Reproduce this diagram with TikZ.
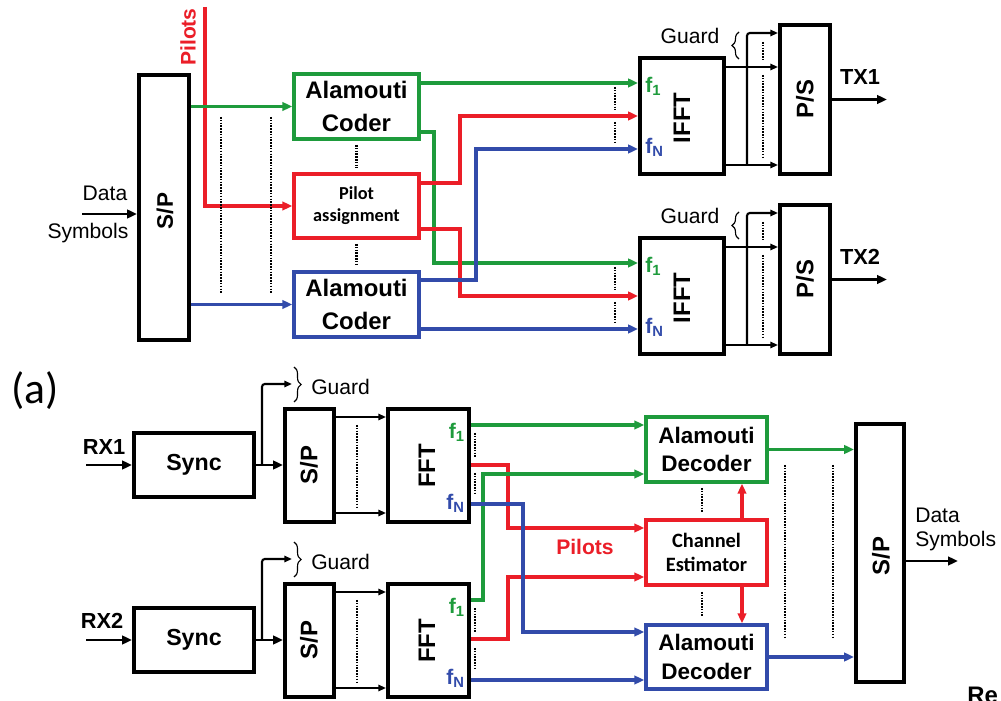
\documentclass[tikz,border=0pt]{standalone}
\usepackage{fontspec}
\setmainfont{Liberation Sans}
\newfontfamily\calfont{Carlito}
\usetikzlibrary{arrows.meta,decorations.pathreplacing,calc}
\definecolor{cgreen}{RGB}{30,155,60}
\definecolor{cred}{RGB}{235,30,40}
\definecolor{cblue}{RGB}{50,75,170}
\begin{document}
\begin{tikzpicture}[x=0.025cm,y=-0.025cm,
  sz/.style 2 args={minimum width=#1*0.025cm, minimum height=#2*0.025cm, inner sep=0pt},
  boxk/.style={draw=black, line width=2.8pt},
  boxg/.style={draw=cgreen, line width=2.5pt},
  boxr/.style={draw=cred, line width=2.5pt},
  boxb/.style={draw=cblue, line width=2.5pt},
  bigf/.style={font=\bfseries\fontsize{17}{20}\selectfont},
  coderf/.style={font=\bfseries\fontsize{17}{24}\selectfont, align=center},
  decf/.style={font=\bfseries\fontsize{16}{20}\selectfont, align=center},
  pilotf/.style={font=\calfont\bfseries\fontsize{13}{15.6}\selectfont, align=center},
  cef/.style={font=\calfont\bfseries\fontsize{14.5}{17}\selectfont, align=center},
  txtf/.style={font=\fontsize{15}{18}\selectfont, inner sep=0pt},
  lblf/.style={font=\bfseries\fontsize{15.5}{18}\selectfont, inner sep=0pt},
  pilf/.style={font=\bfseries\fontsize{15}{18}\selectfont, text=cred, inner sep=0pt},
  flab/.style={font=\bfseries\fontsize{15}{18}\selectfont, inner sep=0pt},
  syncf/.style={font=\bfseries\fontsize{16.5}{20}\selectfont},
  tip/.style={-{Triangle[length=7pt,width=6pt]}},
  tips/.style={-{Triangle[length=5.5pt,width=4.5pt]}},
  kl/.style={draw=black, line width=2pt},
  kt/.style={draw=black, line width=1.5pt},
  gl/.style={draw=cgreen, line width=2.3pt},
  rl/.style={draw=cred, line width=2.2pt},
  bl/.style={draw=cblue, line width=2.2pt},
  dots/.style={draw=black, line width=1.8pt, dash pattern=on 1.1pt off 0.9pt},
  brc/.style={draw=black, line width=0.8pt, decorate, decoration={brace, amplitude=5pt}}
]
\useasboundingbox (0,0) rectangle (1001,701);
\fill[white] (0,0) rectangle (1001,701);

% ===================== TOP (transmitter) =====================
\node[boxk, sz={50}{265}] (spT) at (164,207.5) {};
\node[rotate=90, font=\bfseries\fontsize{16}{19}\selectfont] (spTt) at (165,211) {S/P};
\node[boxg, sz={125}{65}, coderf] (acT1) at (356.5,106.5) {Alamouti\\Coder};
\node[boxr, sz={125}{64}, pilotf] (pa) at (356.5,206) {Pilot\\assignment};
\node[boxb, sz={125}{65}, coderf] (acT2) at (356.5,304.5) {Alamouti\\Coder};

\node[boxk, sz={84}{116}] (ifft1) at (682,116) {};
\node[rotate=90, bigf] (ifft1t) at (682,118) {IFFT};
\node[boxk, sz={84}{116}] (ifft2) at (682,296) {};
\node[rotate=90, bigf] (ifft2t) at (682,298) {IFFT};
\node[boxk, sz={50}{149}] (ps1) at (805,99.5) {};
\node[rotate=90, bigf] (ps1t) at (805,99) {P/S};
\node[boxk, sz={50}{149}] (ps2) at (805,279.5) {};
\node[rotate=90, bigf] (ps2t) at (805,279) {P/S};

\node[flab, anchor=west, text=cgreen] (f1a) at (645,86) {f\textsubscript{1}};
\node[flab, anchor=west, text=cblue] (fNa) at (645,147) {f\textsubscript{N}};
\node[flab, anchor=west, text=cgreen] (f1b) at (645,266) {f\textsubscript{1}};
\node[flab, anchor=west, text=cblue] (fNb) at (645,327) {f\textsubscript{N}};

% input
\coordinate (dsin) at (82,214);
\draw[kl, tip] (dsin) -- (spT.west |- dsin);
\node[txtf] (dataT) at (105,193) {Data};
\node[txtf] (symT) at (88,233) {Symbols};
\coordinate (pilsrc) at (205,7);
\draw[rl, tip] (pilsrc) |- (pa.west);
\node[pilf, rotate=90] (pilT) at (188,37) {Pilots};
\draw[gl, tip] (spT.east |- acT1.west) -- (acT1.west);
\draw[bl, tip] (spT.east |- acT2.west) -- (acT2.west);
\draw[dots] (221,117) -- (221,294);
\draw[dots] (271,117) -- (271,294);
\draw[dots, shorten <=3pt, shorten >=3pt] (acT1.south) -- (pa.north);
\draw[dots, shorten <=3pt, shorten >=3pt] (pa.south) -- (acT2.north);

% coder -> IFFT
\draw[gl, tip] (acT1.east |- 0,83) -- (ifft1.west |- 0,83);
\draw[gl, tip] (acT1.east |- 0,132) -| (434,263) -- (ifft2.west |- 0,263);
\draw[rl, tip] (pa.east |- 0,183) -| (460,116) -- (ifft1.west);
\draw[rl, tip] (pa.east |- 0,229) -| (460,296) -- (ifft2.west);
\draw[bl, tip] (acT2.east |- 0,280) -| (476,149) -- (ifft1.west |- 0,149);
\draw[bl, tip] (acT2.east |- 0,329) -- (ifft2.west |- 0,329);
\draw[dots] (615,87) -- (615,110);
\draw[dots] (615,122) -- (615,143);
\draw[dots] (615,267) -- (615,290);
\draw[dots] (615,302) -- (615,323);

% IFFT -> P/S
\foreach \o/\i/\p in {0/ifft1/ps1, 180/ifft2/ps2}{
  \draw[kt, tips] (\i.east |- 0,67+\o) -- (\p.west |- 0,67+\o);
  \draw[kt, tips] (\i.east |- 0,165+\o) -- (\p.west |- 0,165+\o);
  \draw[kt, tips, rounded corners=2pt] (747,165+\o) -- (747,33+\o) -- (\p.west |- 0,33+\o);
  \draw[dots] (763,42+\o) -- (763,60+\o);
  \draw[dots] (763,75+\o) -- (763,158+\o);
  \draw[brc] (739,59+\o) -- (739,32+\o);
}
\node[txtf] (gdT1) at (690,36) {Guard};
\node[txtf] (gdT2) at (690,216) {Guard};
\coordinate (tx1) at (887,99.5);
\coordinate (tx2) at (887,279.5);
\draw[kl, tip] (ps1.east) -- (tx1);
\draw[kl, tip] (ps2.east) -- (tx2);
\node[lblf] (tx1l) at (860,77) {TX1};
\node[lblf] (tx2l) at (860,257) {TX2};

% ===================== BOTTOM (receiver) =====================
\node[font=\calfont\fontsize{31}{36}\selectfont, inner sep=0pt] (lbla) at (35,391) {(a)};

\foreach \o/\n in {0/1, 175/2}{
  \node[boxk, sz={120}{64}, syncf] (sync\n) at (194,465+\o) {Sync};
  \coordinate (rx\n) at (86,465+\o);
  \draw[kl, tip] (rx\n) -- (sync\n.west);
  \node[boxk, sz={49}{113}] (spB\n) at (309.5,465.5+\o) {};
  \node[rotate=90, bigf] (spB\n t) at (309,465+\o) {S/P};
  \draw[kl, tip] (sync\n.east) -- (spB\n.west |- sync\n.east);
  \coordinate (j\n) at (262,465+\o);
  \coordinate (gd\n) at (292,384+\o);
  \draw[kt, tips, rounded corners=2pt] (j\n) |- (gd\n);
  \draw[brc] (294,367+\o) -- (294,402+\o);
  \node[txtf, anchor=west] (gdB\n) at (311,387+\o) {Guard};
  \node[boxk, sz={81}{113}] (fft\n) at (428.5,465.5+\o) {};
  \node[rotate=90, bigf] (fft\n t) at (427,466+\o) {FFT};
  \draw[kt, tips] (spB\n.east |- 0,417+\o) -- (fft\n.west |- 0,417+\o);
  \draw[kt, tips] (spB\n.east |- 0,513+\o) -- (fft\n.west |- 0,513+\o);
  \draw[dots] (357,425+\o) -- (357,507+\o);
  \node[flab, anchor=east, text=cgreen] (f1r\n) at (465,432+\o) {f\textsubscript{1}};
  \node[flab, anchor=east, text=cblue] (fNr\n) at (465,503+\o) {f\textsubscript{N}};
  \draw[dots] (475,433+\o) -- (475,457+\o);
  \draw[dots] (475,473+\o) -- (475,495+\o);
}
\node[lblf] (rx1l) at (104,447) {RX1};
\node[lblf] (rx2l) at (102,621) {RX2};

\node[boxg, sz={121}{65}, decf] (ad1) at (706.5,449.5) {Alamouti\\Decoder};
\node[boxr, sz={121}{65}, cef] (ce) at (706.5,552.5) {Channel\\Estimator};
\node[boxb, sz={121}{64}, decf] (ad2) at (706.5,657) {Alamouti\\Decoder};
\node[boxk, sz={48}{258}] (spF) at (880,553) {};
\node[rotate=90, bigf] (spFt) at (881,556) {S/P};

% FFT -> decoders / estimator
\draw[rl, tip] (fft1.east |- 0,465) -| (508,528) -- (ce.west |- 0,528);
\draw[rl, tip] (fft2.east |- 0,639) -| (508,577) -- (ce.west |- 0,577);
\draw[gl, tip] (fft1.east |- 0,425) -- (ad1.west |- 0,425);
\draw[gl, tip] (fft2.east |- 0,600) -| (483,474) -- (ad1.west |- 0,474);
\draw[bl, tip] (fft1.east |- 0,504) -| (523,632) -- (ad2.west |- 0,632);
\draw[bl, tip] (fft2.east |- 0,680) -- (ad2.west |- 0,680);
\node[pilf] (pilB) at (585,547) {Pilots};

\draw[rl, tip] (ce.north -| 742,0) -- (ad1.south -| 742,0);
\draw[rl, tip] (ce.south -| 742,0) -- (ad2.north -| 742,0);
\draw[dots] (702,488) -- (702,512);
\draw[dots] (702,592) -- (702,617);

\draw[gl, tip] (ad1.east) -- (spF.west |- ad1.east);
\draw[bl, tip] (ad2.east) -- (spF.west |- ad2.east);
\draw[dots] (785,465) -- (785,638);
\draw[dots] (833,465) -- (833,638);

\coordinate (dsout) at (958,561);
\draw[kl, tip] (spF.east |- dsout) -- (dsout);
\node[txtf, anchor=base west] (dataB) at (915,523) {Data};
\node[txtf, anchor=base west] (symB) at (915,547) {Symbols};
\node[font=\bfseries\fontsize{17}{20}\selectfont, anchor=north west, inner sep=0pt] (re) at (967,687) {Re};
\end{tikzpicture}
\end{document}
